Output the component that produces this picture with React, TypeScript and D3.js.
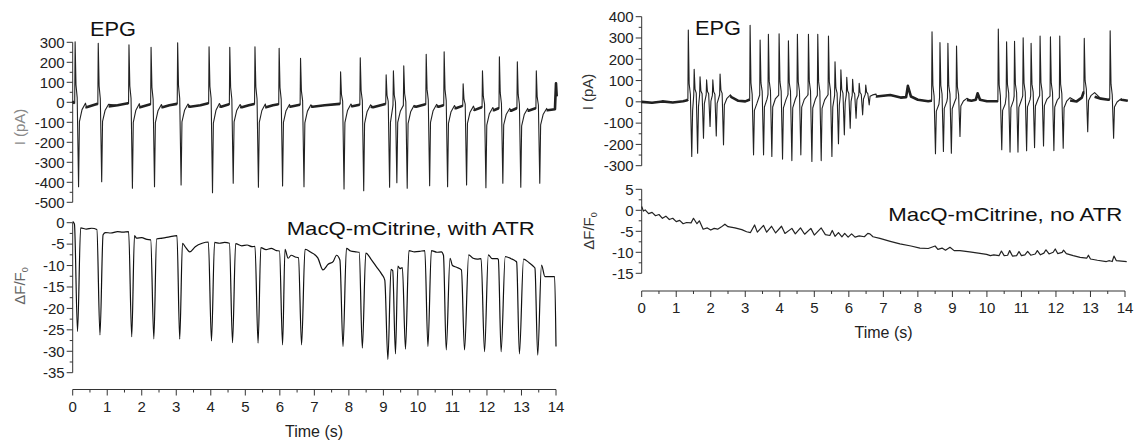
import React from 'react';
import * as d3 from 'd3';

type P = [number, number];

const FONT = "'Liberation Sans', Arial, Helvetica, sans-serif";

// ---------- tick labels ----------
const timeTicks = [0, 1, 2, 3, 4, 5, 6, 7, 8, 9, 10, 11, 12, 13, 14];
const epgLeftTicks = [300, 200, 100, 0, -100, -200, -300, -400, -500];
const dffLeftTicks = [0, -5, -10, -15, -20, -25, -30, -35];
const epgRightTicks = [400, 300, 200, 100, 0, -100, -200, -300];
const dffRightTicks = [5, 0, -5, -10, -15];

// ---------- left EPG (with ATR) ----------
const epgLeftBase: P[] = [
  [0, 5], [0.03, -2], [0.4, -25], [0.7, -8], [1.0, -22], [1.3, -15], [1.6, -5], [1.95, -25], [2.25, -10],
  [2.6, -25], [2.8, -15], [3.02, -8], [3.4, -22], [3.7, -15], [3.93, -5], [4.3, -22], [4.53, -10],
  [4.9, -25], [5.1, -15], [5.26, -8], [5.6, -25], [5.8, -15], [5.96, -10], [6.3, -22], [6.58, -12],
  [6.95, -22], [7.3, -15], [7.74, -8], [8.1, -20], [8.31, -12], [8.7, -25], [9.06, -8], [9.45, -20],
  [9.57, -15], [9.95, -22], [10.22, -10], [10.6, -22], [10.74, -15], [11.1, -30], [11.29, -18],
  [11.65, -38], [11.85, -25], [12.2, -40], [12.34, -30], [12.7, -42], [12.86, -30], [13.2, -42],
  [13.41, -30], [13.75, -40], [13.97, -35], [14.0, 95], [14.02, 30],
];
const epgLeftSpikeT = [0.07, 0.74, 1.63, 2.27, 3.04, 3.95, 4.55, 5.28, 5.98, 6.6, 7.76, 8.33, 9.08, 9.29, 9.59, 10.24, 10.76, 11.31, 11.87, 12.36, 12.88, 13.43];
const epgLeftSpikeTop = [303, 295, 287, 275, 298, 278, 275, 278, 270, 220, 153, 223, 137, 157, 182, 240, 253, 92, 158, 228, 203, 157];
const epgLeftSpikeBot = [-422, -397, -430, -422, -413, -452, -405, -425, -418, -422, -433, -442, -425, -402, -430, -417, -422, -413, -427, -405, -425, -405];

// ---------- left dF/F0 (with ATR) ----------
const dffLeft: P[] = [
  [0.0, 0.3], [0.05, -0.3], [0.14, -25.4], [0.23, -1.2], [0.4, -1.5], [0.55, -1.3], [0.7, -1.6],
  [0.79, -26.2], [0.88, -2.8], [0.95, -2.3], [1.1, -2.4], [1.3, -2.1], [1.45, -2.2], [1.62, -2.1],
  [1.71, -26.6], [1.79, -3.0], [1.85, -3.6], [2.0, -3.5], [2.15, -3.9], [2.26, -4.0],
  [2.35, -27.1], [2.43, -3.8], [2.6, -3.6], [2.8, -3.3], [3.02, -3.0],
  [3.1, -27.2], [3.18, -4.8], [3.25, -5.5], [3.39, -6.8], [3.55, -5.6], [3.75, -4.8], [3.93, -4.5],
  [4.02, -27.6], [4.11, -4.6], [4.25, -4.8], [4.4, -4.6], [4.54, -4.8],
  [4.63, -28.0], [4.72, -4.9], [4.9, -5.4], [5.05, -5.2], [5.2, -5.6], [5.28, -5.5],
  [5.37, -28.1], [5.45, -5.8], [5.6, -6.3], [5.75, -6.0], [5.9, -6.5], [5.99, -6.6],
  [6.08, -28.5], [6.15, -6.2], [6.24, -8.3], [6.33, -7.6], [6.45, -8.0], [6.54, -8.2],
  [6.63, -28.5], [6.73, -6.2], [6.9, -6.9], [7.1, -8.2], [7.25, -11.0], [7.4, -9.7], [7.55, -9.0], [7.64, -7.6], [7.74, -8.7],
  [7.83, -28.9], [7.93, -6.0], [8.05, -6.6], [8.2, -6.8], [8.3, -6.9],
  [8.39, -29.3], [8.49, -7.1], [8.65, -8.6], [8.8, -10.3], [8.95, -12.0], [9.04, -13.4],
  [9.13, -31.9], [9.22, -10.9], [9.27, -11.2],
  [9.35, -30.6], [9.42, -10.1], [9.48, -10.7], [9.55, -10.5],
  [9.64, -29.5], [9.74, -6.5], [9.9, -6.8], [10.05, -6.7], [10.2, -6.5],
  [10.29, -28.9], [10.39, -6.5], [10.55, -6.9], [10.68, -6.8], [10.74, -7.6],
  [10.82, -29.7], [10.93, -8.3], [11.0, -10.0], [11.12, -10.4], [11.26, -11.0],
  [11.35, -29.7], [11.47, -7.5], [11.6, -8.3], [11.72, -8.5], [11.83, -8.4],
  [11.93, -30.1], [12.04, -7.5], [12.15, -8.4], [12.3, -8.4], [12.33, -8.6],
  [12.41, -30.1], [12.53, -7.9], [12.7, -8.4], [12.82, -8.9], [12.86, -9.2],
  [12.94, -30.6], [13.06, -8.5], [13.2, -9.2], [13.36, -10.3], [13.39, -10.6],
  [13.47, -30.9], [13.58, -9.9], [13.68, -12.6], [13.85, -12.6], [13.96, -12.6],
  [14.0, -28.9],
];

// ---------- right EPG (no ATR) ----------
const epgRightBase: P[] = [
  [0, 0], [0.3, -4], [0.6, 2], [0.9, -3], [1.2, 3], [1.32, 8], [1.45, 35], [1.6, 30], [1.8, 35],
  [2.0, 30], [2.2, 35], [2.4, 30], [2.47, 42], [2.6, 22], [2.8, 5], [3.0, 2], [3.12, 10],
  [3.3, 30], [3.6, 35], [3.9, 30], [4.2, 35], [4.45, 30], [4.75, 35], [5.05, 30], [5.35, 35],
  [5.55, 30], [5.9, 35], [6.2, 30], [6.45, 35], [6.62, 40], [6.8, 25], [7.2, 32], [7.5, 20],
  [7.66, 22], [7.71, 75], [7.8, 25], [8.0, 10], [8.3, 3], [8.39, 5], [8.6, 20], [9.0, 20],
  [9.35, 10], [9.55, 5], [9.68, 10], [9.73, 40], [9.8, 10], [10.0, 3], [10.3, 3], [10.5, 25],
  [11.0, 28], [11.5, 30], [12.0, 25], [12.35, 8], [12.6, 2], [12.75, 20], [12.8, 45], [13.0, 30],
  [13.3, 15], [13.52, 10], [13.75, 20], [13.9, 10], [14.08, 5],
];
const epgRightSpikeT = [1.35, 1.52, 1.69, 1.88, 2.06, 2.27, 3.14, 3.43, 3.67, 3.98, 4.25, 4.51, 4.83, 5.1, 5.41, 5.6, 5.77, 5.94, 6.11, 6.3, 6.49, 8.41, 8.64, 8.87, 9.12, 10.33, 10.57, 10.8, 11.05, 11.28, 11.54, 11.84, 12.11, 12.82, 13.57];
const epgRightSpikeTop = [337, 153, 118, 103, 103, 131, 360, 290, 317, 320, 287, 317, 317, 317, 309, 188, 150, 115, 106, 87, 79, 329, 278, 275, 262, 342, 282, 285, 301, 275, 309, 305, 309, 298, 334];
const epgRightSpikeBot = [-257, -241, -171, -116, -160, -202, -249, -249, -257, -269, -276, -249, -280, -276, -257, -197, -155, -124, -77, -61, -15, -244, -233, -241, -163, -225, -236, -236, -230, -215, -207, -229, -218, -140, -171];

// ---------- right dF/F0 (no ATR) ----------
const dffRight: P[] = [
  [0, 0.9], [0.05, -0.2], [0.1, 0.1], [0.2, -0.8], [0.3, -0.5], [0.4, -1.3], [0.5, -1.0], [0.6, -1.9],
  [0.7, -1.4], [0.8, -2.2], [0.9, -1.9], [1.0, -2.7], [1.1, -2.4], [1.2, -3.2], [1.3, -2.9], [1.43, -3.0],
  [1.5, -1.9], [1.6, -3.2], [1.67, -2.5], [1.78, -4.5], [1.9, -4.2], [2.0, -4.7], [2.1, -4.3], [2.2, -4.5],
  [2.3, -4.0], [2.41, -3.3], [2.5, -3.9], [2.7, -4.2], [2.9, -4.6], [3.04, -5.1], [3.15, -5.3], [3.27, -3.5],
  [3.35, -5.2], [3.53, -3.6], [3.62, -5.2], [3.76, -3.8], [3.88, -5.4], [4.05, -3.8], [4.15, -5.5],
  [4.35, -4.3], [4.45, -5.6], [4.6, -4.2], [4.72, -5.7], [4.9, -4.3], [5.0, -5.9], [5.2, -4.2], [5.32, -5.8],
  [5.45, -6.0], [5.52, -4.8], [5.6, -6.2], [5.7, -5.3], [5.8, -6.3], [5.88, -5.5], [5.98, -6.4], [6.08, -5.6],
  [6.18, -6.4], [6.3, -6.1], [6.45, -6.3], [6.55, -5.5], [6.61, -5.6], [6.7, -6.3], [6.9, -6.7], [7.2, -7.4],
  [7.48, -8.0], [7.8, -8.5], [8.06, -9.0], [8.3, -9.1], [8.5, -8.5], [8.58, -9.3], [8.7, -9.0], [8.8, -9.5],
  [8.93, -8.8], [9.05, -9.6], [9.22, -9.6], [9.5, -9.9], [9.75, -10.2], [9.99, -10.5], [10.1, -10.8],
  [10.2, -10.6], [10.35, -10.8], [10.42, -9.7], [10.5, -10.8], [10.6, -10.7], [10.66, -9.6], [10.74, -10.9],
  [10.86, -10.8], [10.93, -9.8], [11.0, -10.8], [11.1, -10.6], [11.18, -9.8], [11.27, -10.7], [11.4, -10.4],
  [11.46, -9.6], [11.55, -10.6], [11.65, -10.2], [11.71, -9.4], [11.8, -10.4], [11.92, -10.0], [11.98, -9.2],
  [12.05, -10.3], [12.18, -10.0], [12.22, -9.5], [12.3, -10.3], [12.5, -10.8], [12.7, -11.2], [12.89, -11.4],
  [12.94, -10.7], [13.0, -11.6], [13.2, -11.9], [13.46, -12.2], [13.55, -12.0], [13.63, -12.2], [13.68, -10.9],
  [13.75, -12.0], [13.9, -12.1], [14.05, -12.2],
];

// ---------- trace building ----------
function baseAt(base: P[], t: number): number {
  for (let i = 1; i < base.length; i++) {
    if (base[i][0] >= t) {
      const [t0, v0] = base[i - 1];
      const [t1, v1] = base[i];
      return v0 + ((v1 - v0) * (t - t0)) / (t1 - t0 || 1);
    }
  }
  return base[base.length - 1][1];
}

function buildEpg(base: P[], times: number[], tops: number[], bots: number[], shK: number, rbK: number) {
  const wins = times.map((t, i) => {
    const next = i < times.length - 1 ? times[i + 1] - 0.015 : Infinity;
    return [t - 0.012, Math.min(t + 0.3, next)] as P;
  });
  const inWin = (t: number) => wins.some(([a, b]) => t >= a && t <= b);
  const full: P[] = base.filter(([t]) => !inWin(t));
  times.forEach((t, i) => {
    const b = baseAt(base, t);
    const sh = b + shK * (tops[i] - b);
    const rb = b + rbK * (bots[i] - b);
    const tpl: P[] = [
      [t - 0.012, b], [t, tops[i]], [t + 0.025, sh], [t + 0.06, b + 0.3 * (sh - b)],
      [t + 0.1, bots[i]], [t + 0.125, rb], [t + 0.2, b + 0.35 * (rb - b)], [t + 0.3, b],
    ];
    tpl.filter(([tt]) => tt <= wins[i][1]).forEach((p) => full.push(p));
  });
  full.sort((a, b) => a[0] - b[0]);
  const segs: P[][] = [];
  const edges = [[-Infinity, wins[0][0]], ...wins.slice(0, -1).map((w, i) => [w[1], wins[i + 1][0]]), [wins[wins.length - 1][1], Infinity]];
  edges.forEach(([a, b]) => {
    const seg: P[] = [];
    if (isFinite(a)) seg.push([a, baseAt(base, a)]);
    base.filter(([t]) => t > a && t < b).forEach((p) => seg.push(p));
    if (isFinite(b)) seg.push([b, baseAt(base, b)]);
    if (seg.length > 1) segs.push(seg);
  });
  return { full, segs };
}

// ---------- axes ----------
function mids(ticks: number[]) {
  const out: number[] = [];
  for (let i = 0; i < ticks.length - 1; i++) out.push((ticks[i] + ticks[i + 1]) / 2);
  return out;
}

function YAxis({ scale, x, ticks }: { scale: d3.ScaleLinear<number, number>; x: number; ticks: number[] }) {
  const [lo, hi] = d3.extent(ticks) as [number, number];
  return (
    <g>
      <line x1={x} x2={x} y1={scale(lo)} y2={scale(hi)} stroke="#333" strokeWidth={1} />
      {ticks.map((t) => (
        <g key={t}>
          <line x1={x - 6} x2={x} y1={scale(t)} y2={scale(t)} stroke="#333" strokeWidth={1} />
          <text x={x - 8} y={scale(t) + 5.3} textAnchor="end" fontSize={15} fill="#222">
            {t}
          </text>
        </g>
      ))}
      {mids(ticks).map((t) => (
        <line key={'m' + t} x1={x - 3} x2={x} y1={scale(t)} y2={scale(t)} stroke="#333" strokeWidth={1} />
      ))}
    </g>
  );
}

function XAxis({ scale, y, ticks }: { scale: d3.ScaleLinear<number, number>; y: number; ticks: number[] }) {
  const [lo, hi] = d3.extent(ticks) as [number, number];
  return (
    <g>
      <line x1={scale(lo)} x2={scale(hi)} y1={y} y2={y} stroke="#333" strokeWidth={1} />
      {ticks.map((t) => (
        <g key={t}>
          <line x1={scale(t)} x2={scale(t)} y1={y} y2={y + 6} stroke="#333" strokeWidth={1} />
          <text x={scale(t)} y={y + 22} textAnchor="middle" fontSize={15} fill="#222">
            {t}
          </text>
        </g>
      ))}
      {mids(ticks).map((t) => (
        <line key={'m' + t} x1={scale(t)} x2={scale(t)} y1={y} y2={y + 3} stroke="#333" strokeWidth={1} />
      ))}
    </g>
  );
}

function Epg({ x, y, data }: { x: d3.ScaleLinear<number, number>; y: d3.ScaleLinear<number, number>; data: { full: P[]; segs: P[][] } }) {
  const line = d3.line<P>().x((d) => x(d[0])).y((d) => y(d[1]));
  return (
    <g>
      {data.segs.map((s, i) => (
        <path key={i} d={line(s) || ''} fill="none" stroke="#222" strokeWidth={2.6} strokeLinejoin="round" />
      ))}
      <path d={line(data.full) || ''} fill="none" stroke="#222" strokeWidth={1.1} strokeLinejoin="round" />
    </g>
  );
}

function DffLabel({ x, y, fill }: { x: number; y: number; fill: string }) {
  return (
    <text transform={`translate(${x},${y}) rotate(-90)`} textAnchor="middle" fontSize={15} fill={fill}>
      ΔF/F<tspan fontSize={9} dy={3}>0</tspan>
    </text>
  );
}

export default function App() {
  const xL = d3.scaleLinear().domain([0, 14]).range([72.7, 556]);
  const yL1 = d3.scaleLinear().domain([-500, 300]).range([202.3, 42.3]);
  const yL2 = d3.scaleLinear().domain([-35, 0]).range([372.7, 222.7]);
  const xR = d3.scaleLinear().domain([0, 14]).range([641.7, 1125]);
  const yR1 = d3.scaleLinear().domain([-300, 400]).range([165.7, 16.7]);
  const yR2 = d3.scaleLinear().domain([-15, 5]).range([273.3, 189.3]);

  const epgL = buildEpg(epgLeftBase, epgLeftSpikeT, epgLeftSpikeTop, epgLeftSpikeBot, 0.3, 0.22);
  const epgR = buildEpg(epgRightBase, epgRightSpikeT, epgRightSpikeTop, epgRightSpikeBot, 0.22, 0.2);

  const lineL2 = d3.line<P>().x((d) => xL(d[0])).y((d) => yL2(d[1])).curve(d3.curveMonotoneX);
  const lineR2 = d3.line<P>().x((d) => xR(d[0])).y((d) => yR2(d[1]));

  return (
    <svg
      width={1142}
      height={447}
      style={{ position: 'absolute', left: 0, top: 0, background: '#fff' }}
      fontFamily={FONT}
    >
      <rect width={1142} height={447} fill="#fff" />

      {/* ---------- LEFT ---------- */}
      <text x={90} y={36} fontSize={20} textLength={46} lengthAdjust="spacingAndGlyphs" fill="#111">EPG</text>
      <YAxis scale={yL1} x={72.7} ticks={epgLeftTicks} />
      <Epg x={xL} y={yL1} data={epgL} />
      <text transform="translate(25,127) rotate(-90)" textAnchor="middle" fontSize={15} fill="#888">I (pA)</text>

      <YAxis scale={yL2} x={72.7} ticks={dffLeftTicks} />
      <path d={lineL2(dffLeft) || ''} fill="none" stroke="#111" strokeWidth={1.2} strokeLinejoin="round" />
      <DffLabel x={25} y={286} fill="#666" />
      <text x={286.7} y={235} fontSize={19} textLength={248} lengthAdjust="spacingAndGlyphs" fill="#111">
        MacQ-mCitrine, with ATR
      </text>
      <XAxis scale={xL} y={389.5} ticks={timeTicks} />
      <text x={314} y={437} textAnchor="middle" fontSize={16} fill="#222">Time (s)</text>

      {/* ---------- RIGHT ---------- */}
      <text x={695} y={35} fontSize={20} textLength={46} lengthAdjust="spacingAndGlyphs" fill="#111">EPG</text>
      <YAxis scale={yR1} x={641.7} ticks={epgRightTicks} />
      <Epg x={xR} y={yR1} data={epgR} />
      <text transform="translate(593,92) rotate(-90)" textAnchor="middle" fontSize={15} fill="#333">I (pA)</text>

      <YAxis scale={yR2} x={641.7} ticks={dffRightTicks} />
      <path d={lineR2(dffRight) || ''} fill="none" stroke="#222" strokeWidth={1.2} strokeLinejoin="round" />
      <DffLabel x={594} y={231} fill="#333" />
      <text x={888.3} y={220.7} fontSize={19} textLength={234} lengthAdjust="spacingAndGlyphs" fill="#111">
        MacQ-mCitrine, no ATR
      </text>
      <XAxis scale={xR} y={291} ticks={timeTicks} />
      <text x={883.5} y={338} textAnchor="middle" fontSize={16} fill="#222">Time (s)</text>
    </svg>
  );
}
